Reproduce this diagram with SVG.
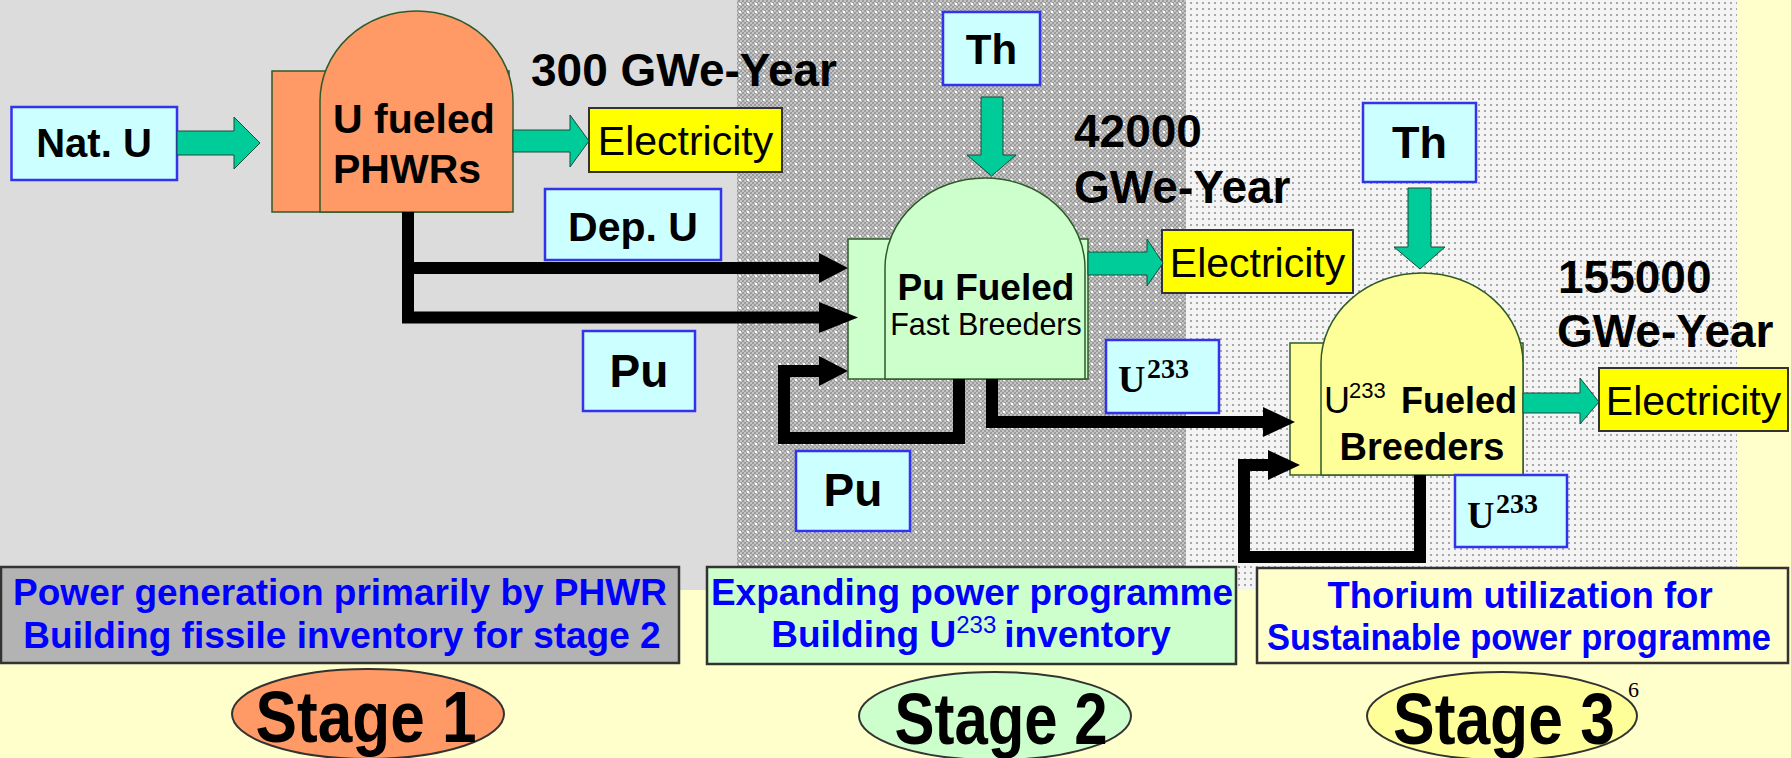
<svg xmlns="http://www.w3.org/2000/svg" width="1791" height="758" viewBox="0 0 1791 758">
<defs>
<style>
.t{font-family:"Liberation Sans",Arial,sans-serif;font-weight:bold;fill:#000}
.n{font-family:"Liberation Sans",Arial,sans-serif;font-weight:normal;fill:#000}
.s{font-family:"Liberation Serif","Times New Roman",serif;font-weight:bold;fill:#000}
.b{font-family:"Liberation Sans",Arial,sans-serif;font-weight:bold;fill:#0000FF}
.cy{fill:#CCFFFF;stroke:#3333EE;stroke-width:2.5}
.el{fill:#FFFF00;stroke:#333;stroke-width:2}
.ga{fill:#00CC99;stroke:#1a4a3a;stroke-width:1}
.bl{fill:none;stroke:#000;stroke-width:12;stroke-linejoin:miter}
.ah{fill:#000}
.r1{fill:#FF9966;stroke:#2f5a2a;stroke-width:1.5}
.r2{fill:#CCFFCC;stroke:#2f5a2a;stroke-width:1.5}
.r3{fill:#FFFF99;stroke:#2f5a2a;stroke-width:1.5}
.bx{stroke:#333;stroke-width:2.5}
</style>
<pattern id="chk" width="4" height="4" patternUnits="userSpaceOnUse">
<rect width="4" height="4" fill="#9c9c9c"/>
<rect width="2" height="2" fill="#c4c4c4"/>
<rect x="2" y="2" width="2" height="2" fill="#c4c4c4"/>
</pattern>
<pattern id="wd" width="8" height="8" patternUnits="userSpaceOnUse">
<rect x="3" y="3" width="2" height="2" fill="#ffffff"/>
</pattern>
<pattern id="gd" width="6" height="6" patternUnits="userSpaceOnUse">
<rect width="6" height="6" fill="#f4f4f4"/>
<rect x="2" y="2" width="2" height="2" fill="#a8a8a8"/>
</pattern>
</defs>

<g id="background">
<rect width="1791" height="758" fill="#FFFFCC"/>
<rect x="0" y="0" width="737" height="590" fill="#DCDCDC"/>
<rect x="737" y="0" width="449" height="590" fill="url(#chk)"/>
<rect x="737" y="0" width="449" height="590" fill="url(#wd)"/>
<rect x="1186" y="0" width="551" height="590" fill="url(#gd)"/>
</g>

<g id="stage1-reactor">
<rect class="r1" x="272" y="71" width="237" height="141"/>
<path class="r1" d="M320,212 V101 A96.5,90 0 0 1 513,101 V212 Z"/>
<text class="t" x="333" y="133" font-size="41">U fueled</text>
<text class="t" x="333" y="183" font-size="41">PHWRs</text>
</g>

<g id="stage2-reactor">
<rect class="r2" x="848" y="239" width="240" height="140"/>
<path class="r2" d="M885,379 V268 A100,90 0 0 1 1085,268 V379 Z"/>
<text class="t" x="986" y="300" font-size="37" text-anchor="middle">Pu Fueled</text>
<text class="n" x="986" y="335" font-size="30.5" text-anchor="middle">Fast Breeders</text>
</g>

<g id="stage3-reactor">
<rect class="r3" x="1290" y="343" width="233" height="132"/>
<path class="r3" d="M1321,475 V363 A101,90 0 0 1 1523,363 V475 Z"/>
<text class="n" x="1324" y="413" font-size="36">U</text>
<text class="n" x="1349" y="398" font-size="22">233</text>
<text class="t" x="1401" y="413" font-size="36">Fueled</text>
<text class="t" x="1422" y="460" font-size="38" text-anchor="middle">Breeders</text>
</g>

<g id="natu"><rect class="cy" x="11.5" y="107" width="165.5" height="73"/><text class="t" x="94" y="157" font-size="40" text-anchor="middle">Nat. U</text></g>
<g id="depu"><rect class="cy" x="545" y="189" width="176" height="71"/><text class="t" x="633" y="241" font-size="41" text-anchor="middle">Dep. U</text></g>
<g id="pu1"><rect class="cy" x="583" y="331" width="112" height="80"/><text class="t" x="639" y="387" font-size="46" text-anchor="middle">Pu</text></g>
<g id="pu2"><rect class="cy" x="796" y="451" width="114" height="80"/><text class="t" x="853" y="506" font-size="46" text-anchor="middle">Pu</text></g>
<g id="th1"><rect class="cy" x="943" y="12" width="97" height="73"/><text class="t" x="991.5" y="64" font-size="42" text-anchor="middle">Th</text></g>
<g id="th2"><rect class="cy" x="1363" y="103" width="113" height="79"/><text class="t" x="1419.5" y="158" font-size="45" text-anchor="middle">Th</text></g>
<g id="u233a"><rect class="cy" x="1106" y="340" width="113" height="73"/><text class="s" x="1118" y="392" font-size="38">U</text><text class="s" x="1147" y="378" font-size="28">233</text></g>
<g id="u233b"><rect class="cy" x="1455" y="475" width="112" height="72"/><text class="s" x="1467" y="528" font-size="38">U</text><text class="s" x="1496" y="513" font-size="28">233</text></g>

<g id="elec1"><rect class="el" x="589" y="108" width="193" height="64"/><text class="n" x="685.5" y="155" font-size="41" text-anchor="middle">Electricity</text></g>
<g id="elec2"><rect class="el" x="1162" y="230" width="191" height="63"/><text class="n" x="1257.5" y="277" font-size="41" text-anchor="middle">Electricity</text></g>
<g id="elec3"><rect class="el" x="1599" y="368" width="189" height="63"/><text class="n" x="1693.5" y="415" font-size="41" text-anchor="middle">Electricity</text></g>

<g id="labels">
<text class="t" x="531" y="86" font-size="46">300 GWe-Year</text>
<text class="t" x="1074" y="147" font-size="46">42000</text>
<text class="t" x="1074" y="203" font-size="46">GWe-Year</text>
<text class="t" x="1558" y="293" font-size="46">155000</text>
<text class="t" x="1557" y="347" font-size="46">GWe-Year</text>
</g>

<g id="connectors">
<polygon class="ga" points="177,131 234,131 234,117 260,143 234,169 234,155 177,155"/>
<polygon class="ga" points="513,130 570,130 570,115 589,141 570,167 570,152 513,152"/>
<polygon class="ga" points="981,97 1003,97 1003,155 1016,155 991.5,176 967,155 981,155"/>
<polygon class="ga" points="1088,252 1147,252 1147,239 1163,263 1147,286 1147,275 1088,275"/>
<polygon class="ga" points="1408,188 1431,188 1431,247 1445,247 1420,269 1394,247 1408,247"/>
<polygon class="ga" points="1523,393 1580,393 1580,378 1599,402 1580,424 1580,413 1523,413"/>
<path class="bl" d="M408,212 V317.5 H822"/>
<path class="bl" d="M408,268 H822"/>
<polygon class="ah" points="819,253 848,268 819,283"/>
<polygon class="ah" points="819,302 858,317.5 819,333"/>
<path class="bl" d="M959,379 V438 H784 V371 H822"/>
<polygon class="ah" points="819,356 848,371 819,386"/>
<path class="bl" d="M992,379 V422 H1265"/>
<polygon class="ah" points="1263,407 1295,422 1263,437"/>
<path class="bl" d="M1420,475 V557 H1244 V465 H1270"/>
<polygon class="ah" points="1268,450 1300,465 1268,480"/>
</g>

<g id="desc1"><rect class="bx" x="1" y="567" width="678" height="96" fill="#B3B3B3"/>
<text class="b" x="340" y="605" font-size="37" text-anchor="middle">Power generation primarily by PHWR</text>
<text class="b" x="342" y="648" font-size="37" text-anchor="middle">Building fissile inventory for stage 2</text></g>
<g id="desc2"><rect class="bx" x="707" y="567" width="529" height="97" fill="#CCFFCC"/>
<text class="b" x="972" y="605" font-size="37" text-anchor="middle">Expanding power programme</text>
<text class="b" x="971" y="647" font-size="37" text-anchor="middle">Building U<tspan font-size="24" font-weight="normal" dy="-14">233</tspan><tspan dy="14" dx="8">inventory</tspan></text></g>
<g id="desc3"><rect class="bx" x="1257" y="568" width="531" height="95" fill="#FFFFCC"/>
<text class="b" x="1520" y="608" font-size="36.5" text-anchor="middle">Thorium utilization for</text>
<text class="b" x="1519" y="650" font-size="36" text-anchor="middle" textLength="504" lengthAdjust="spacingAndGlyphs">Sustainable power programme</text></g>

<g id="stage1"><ellipse cx="368" cy="714" rx="136" ry="45" fill="#FF9966" stroke="#333" stroke-width="2"/>
<text class="t" x="366" y="742" font-size="72" text-anchor="middle" textLength="221" lengthAdjust="spacingAndGlyphs">Stage 1</text></g>
<g id="stage2"><ellipse cx="995" cy="716" rx="136" ry="44" fill="#CCFFCC" stroke="#333" stroke-width="2"/>
<text class="t" x="1001" y="744" font-size="72" text-anchor="middle" textLength="213" lengthAdjust="spacingAndGlyphs">Stage 2</text></g>
<g id="stage3"><ellipse cx="1502" cy="716" rx="135" ry="44" fill="#FFFF99" stroke="#333" stroke-width="2"/>
<text class="t" x="1504" y="744" font-size="72" text-anchor="middle" textLength="222" lengthAdjust="spacingAndGlyphs">Stage 3</text></g>
<text x="1628" y="697" font-family="'Liberation Serif','Times New Roman',serif" font-size="22" fill="#000">6</text>
</svg>
